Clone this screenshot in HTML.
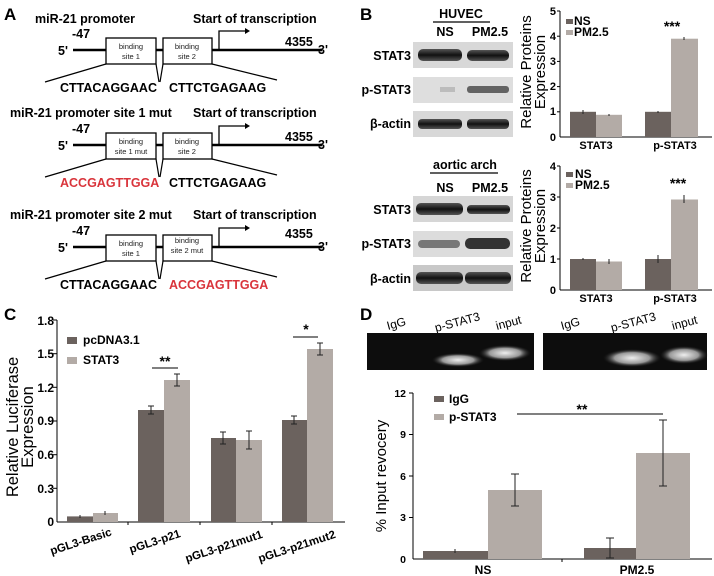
<!DOCTYPE html>
<html><head><meta charset="utf-8"><style>
body{margin:0;background:#fff}
svg{display:block;font-family:"Liberation Sans",sans-serif;font-weight:bold}
</style></head><body>
<svg width="714" height="576" viewBox="0 0 714 576" xmlns="http://www.w3.org/2000/svg">
<defs>
<g id="diag" stroke="#000" fill="none">
  <line x1="73" y1="50" x2="322" y2="50" stroke-width="2.5"/>
  <rect x="106" y="38" width="50" height="26" fill="#fff" stroke-width="1.3"/>
  <rect x="163" y="38" width="49" height="26" fill="#fff" stroke-width="1.3"/>
  <polyline points="219,50 219,31 245,31" stroke-width="1.3"/>
  <polygon points="245,28 250,31 245,34" fill="#000" stroke="none"/>
  <line x1="106" y1="64" x2="45" y2="82" stroke-width="1.2"/>
  <line x1="156" y1="64" x2="159" y2="82" stroke-width="1.2"/>
  <line x1="163" y1="64" x2="160" y2="82" stroke-width="1.2"/>
  <line x1="212" y1="64" x2="277" y2="80" stroke-width="1.2"/>
</g>
<linearGradient id="band" x1="0" y1="0" x2="0" y2="1"><stop offset="0" stop-color="#555"/><stop offset=".5" stop-color="#111"/><stop offset="1" stop-color="#555"/></linearGradient>
<radialGradient id="glow"><stop offset="0" stop-color="#eee"/><stop offset=".6" stop-color="#999"/><stop offset="1" stop-color="#222" stop-opacity="0"/></radialGradient>
</defs>

<!-- Panel A -->
<text x="4" y="20" font-size="17">A</text>
<g font-size="12.5">
<text x="35" y="23">miR-21 promoter</text>
<text x="193" y="23">Start of transcription</text>
<text x="10" y="117">miR-21 promoter site 1 mut</text>
<text x="193" y="117">Start of transcription</text>
<text x="10" y="219">miR-21 promoter site 2 mut</text>
<text x="193" y="219">Start of transcription</text>
</g>
<use href="#diag"/>
<use href="#diag" y="95"/>
<use href="#diag" y="197"/>
<g font-size="12.5">
<text x="72" y="38">-47</text><text x="58" y="55">5'</text><text x="285" y="46">4355</text><text x="318" y="54">3'</text>
<text x="72" y="133">-47</text><text x="58" y="150">5'</text><text x="285" y="141">4355</text><text x="318" y="149">3'</text>
<text x="72" y="235">-47</text><text x="58" y="252">5'</text><text x="285" y="238">4355</text><text x="318" y="251">3'</text>
</g>
<g font-size="7.5" font-weight="normal" text-anchor="middle" fill="#222">
<text x="131" y="49">binding</text><text x="131" y="59">site 1</text>
<text x="187" y="49">binding</text><text x="187" y="59">site 2</text>
<text x="131" y="144">binding</text><text x="131" y="154">site 1 mut</text>
<text x="187" y="144">binding</text><text x="187" y="154">site 2</text>
<text x="131" y="246">binding</text><text x="131" y="256">site 1</text>
<text x="187" y="243">binding</text><text x="187" y="253">site 2 mut</text>
</g>
<g font-size="12.5">
<text x="60" y="92">CTTACAGGAAC</text><text x="169" y="92">CTTCTGAGAAG</text>
<text x="60" y="187" fill="#d9343b">ACCGAGTTGGA</text><text x="169" y="187">CTTCTGAGAAG</text>
<text x="60" y="289">CTTACAGGAAC</text><text x="169" y="289" fill="#d9343b">ACCGAGTTGGA</text>
</g>

<!-- Panel B blots -->
<text x="360" y="20" font-size="17">B</text>
<g font-size="12.5" text-anchor="middle">
<text x="461" y="18">HUVEC</text><line x1="433" y1="22" x2="490" y2="22" stroke="#000" stroke-width="1.3"/>
<text x="445" y="36">NS</text><text x="490" y="36">PM2.5</text>
<text x="465" y="169">aortic arch</text><line x1="430" y1="173" x2="498" y2="173" stroke="#000" stroke-width="1.3"/>
<text x="445" y="192">NS</text><text x="490" y="192">PM2.5</text>
</g>
<g font-size="12.5" text-anchor="end">
<text x="411" y="60">STAT3</text><text x="411" y="94">p-STAT3</text><text x="411" y="128">β-actin</text>
<text x="411" y="214">STAT3</text><text x="411" y="248">p-STAT3</text><text x="411" y="283">β-actin</text>
</g>
<g>
<rect x="413" y="42" width="100" height="26" fill="#d8d8d8"/>
<rect x="418" y="49" width="44" height="12" rx="5" fill="url(#band)"/><rect x="467" y="50" width="42" height="11" rx="5" fill="url(#band)"/>
<rect x="413" y="77" width="100" height="26" fill="#dedede"/>
<rect x="467" y="86" width="42" height="7" rx="3" fill="#444" opacity=".8"/><rect x="440" y="87" width="15" height="5" fill="#999" opacity=".5"/>
<rect x="413" y="111" width="100" height="26" fill="#d8d8d8"/>
<rect x="418" y="119" width="44" height="10" rx="4" fill="url(#band)"/><rect x="467" y="119" width="42" height="10" rx="4" fill="url(#band)"/>
<rect x="413" y="196" width="100" height="26" fill="#d6d6d6"/>
<rect x="416" y="203" width="47" height="12" rx="5" fill="url(#band)"/><rect x="467" y="205" width="43" height="9" rx="4" fill="url(#band)"/>
<rect x="413" y="231" width="100" height="26" fill="#dcdcdc"/>
<rect x="418" y="240" width="42" height="8" rx="4" fill="#777"/><rect x="465" y="238" width="45" height="11" rx="5" fill="#333"/>
<rect x="413" y="265" width="100" height="26" fill="#c8c8c8"/>
<rect x="416" y="272" width="47" height="12" rx="5" fill="url(#band)"/><rect x="465" y="272" width="46" height="12" rx="5" fill="url(#band)"/>
</g>

<!-- Panel B charts -->
<g stroke="#000" stroke-width="1" fill="none">
<line x1="560" y1="11" x2="560" y2="137"/><line x1="560" y1="137" x2="712" y2="137"/>
<line x1="557" y1="11" x2="560" y2="11"/><line x1="557" y1="36.2" x2="560" y2="36.2"/><line x1="557" y1="61.4" x2="560" y2="61.4"/><line x1="557" y1="86.6" x2="560" y2="86.6"/><line x1="557" y1="111.8" x2="560" y2="111.8"/>
<line x1="560" y1="166" x2="560" y2="290"/><line x1="560" y1="290" x2="712" y2="290"/>
<line x1="557" y1="166" x2="560" y2="166"/><line x1="557" y1="197" x2="560" y2="197"/><line x1="557" y1="228" x2="560" y2="228"/><line x1="557" y1="259" x2="560" y2="259"/>
</g>
<g font-size="11" text-anchor="end">
<text x="556" y="15">5</text><text x="556" y="40">4</text><text x="556" y="65">3</text><text x="556" y="90">2</text><text x="556" y="115">1</text><text x="556" y="141">0</text>
<text x="556" y="170">4</text><text x="556" y="201">3</text><text x="556" y="232">2</text><text x="556" y="263">1</text><text x="556" y="294">0</text>
</g>
<g fill="#6b625e">
<rect x="570" y="111.8" width="26" height="25.2"/><rect x="645" y="111.8" width="26" height="25.2"/>
<rect x="570" y="259" width="26" height="31"/><rect x="645" y="259" width="26" height="31"/>
</g>
<g fill="#b3aba6">
<rect x="596" y="114.8" width="26" height="22.2"/><rect x="671" y="38.7" width="27" height="98.3"/>
<rect x="596" y="261.5" width="26" height="28.5"/><rect x="671" y="199.5" width="27" height="90.5"/>
</g>
<g stroke="#222" stroke-width="1">
<line x1="583" y1="110" x2="583" y2="114"/><line x1="609" y1="114" x2="609" y2="116"/><line x1="658" y1="111" x2="658" y2="113"/><line x1="684" y1="37" x2="684" y2="40"/>
<line x1="583" y1="258" x2="583" y2="260"/><line x1="609" y1="259" x2="609" y2="264"/><line x1="658" y1="255" x2="658" y2="263"/><line x1="684" y1="195" x2="684" y2="203"/>
</g>
<g font-size="12">
<rect x="566" y="19" width="7" height="5" fill="#6b625e"/><text x="574" y="25">NS</text>
<rect x="566" y="30" width="7" height="5" fill="#b3aba6"/><text x="574" y="36">PM2.5</text>
<rect x="566" y="172" width="7" height="5" fill="#6b625e"/><text x="575" y="178">NS</text>
<rect x="566" y="183" width="7" height="5" fill="#b3aba6"/><text x="575" y="189">PM2.5</text>
<text x="672" y="31" text-anchor="middle" font-size="14">***</text>
<text x="678" y="188" text-anchor="middle" font-size="14">***</text>
<text x="596" y="149" text-anchor="middle" font-size="11">STAT3</text><text x="675" y="149" text-anchor="middle" font-size="11">p-STAT3</text>
<text x="596" y="302" text-anchor="middle" font-size="11">STAT3</text><text x="675" y="302" text-anchor="middle" font-size="11">p-STAT3</text>
</g>
<g font-size="15" font-weight="normal" text-anchor="middle">
<text transform="translate(531,72) rotate(-90)">Relative Proteins</text>
<text transform="translate(545,72) rotate(-90)">Expression</text>
<text transform="translate(531,226) rotate(-90)">Relative Proteins</text>
<text transform="translate(545,226) rotate(-90)">Expression</text>
</g>

<!-- Panel C -->
<text x="4" y="320" font-size="17">C</text>
<g stroke="#000" stroke-width="1">
<line x1="57" y1="320" x2="57" y2="522"/><line x1="57" y1="522" x2="345" y2="522"/>
<line x1="53" y1="320" x2="57" y2="320"/><line x1="53" y1="353.7" x2="57" y2="353.7"/><line x1="53" y1="387.3" x2="57" y2="387.3"/><line x1="53" y1="421" x2="57" y2="421"/><line x1="53" y1="454.7" x2="57" y2="454.7"/><line x1="53" y1="488.3" x2="57" y2="488.3"/>
<line x1="128" y1="522" x2="128" y2="525"/><line x1="200" y1="522" x2="200" y2="525"/><line x1="272" y1="522" x2="272" y2="525"/>
</g>
<g font-size="12" text-anchor="end">
<text x="54" y="325">1.8</text><text x="54" y="358">1.5</text><text x="54" y="392">1.2</text><text x="54" y="425">0.9</text><text x="54" y="459">0.6</text><text x="54" y="493">0.3</text><text x="54" y="526">0</text>
</g>
<g fill="#6b625e">
<rect x="67" y="516.4" width="26" height="5.6"/><rect x="138" y="410" width="26" height="112"/><rect x="211" y="438" width="25" height="84"/><rect x="282" y="420" width="25" height="102"/>
</g>
<g fill="#b3aba6">
<rect x="93" y="513" width="25" height="9"/><rect x="164" y="380" width="26" height="142"/><rect x="236" y="440" width="26" height="82"/><rect x="307" y="349" width="26" height="173"/>
</g>
<g stroke="#222" stroke-width="1">
<line x1="80" y1="515" x2="80" y2="518"/><line x1="105" y1="511" x2="105" y2="515"/>
<line x1="151" y1="406" x2="151" y2="414"/><line x1="148" y1="406" x2="154" y2="406"/><line x1="148" y1="414" x2="154" y2="414"/>
<line x1="177" y1="374" x2="177" y2="386"/><line x1="174" y1="374" x2="180" y2="374"/><line x1="174" y1="386" x2="180" y2="386"/>
<line x1="223" y1="432" x2="223" y2="444"/><line x1="220" y1="432" x2="226" y2="432"/><line x1="220" y1="444" x2="226" y2="444"/>
<line x1="249" y1="431" x2="249" y2="449"/><line x1="246" y1="431" x2="252" y2="431"/><line x1="246" y1="449" x2="252" y2="449"/>
<line x1="294" y1="416" x2="294" y2="424"/><line x1="291" y1="416" x2="297" y2="416"/><line x1="291" y1="424" x2="297" y2="424"/>
<line x1="320" y1="343" x2="320" y2="355"/><line x1="317" y1="343" x2="323" y2="343"/><line x1="317" y1="355" x2="323" y2="355"/>
<line x1="152" y1="368" x2="178" y2="368" stroke="#000"/><line x1="293" y1="337" x2="318" y2="337" stroke="#000"/>
</g>
<text x="165" y="366" font-size="14" text-anchor="middle">**</text>
<text x="306" y="334" font-size="14" text-anchor="middle">*</text>
<g font-size="12">
<rect x="67" y="337" width="10" height="7" fill="#6b625e"/><text x="83" y="344">pcDNA3.1</text>
<rect x="67" y="357" width="10" height="7" fill="#b3aba6"/><text x="83" y="364">STAT3</text>
</g>
<g font-size="11.5" text-anchor="middle">
<text transform="translate(82,545) rotate(-18)">pGL3-Basic</text>
<text transform="translate(156,545) rotate(-18)">pGL3-p21</text>
<text transform="translate(225,550) rotate(-18)">pGL3-p21mut1</text>
<text transform="translate(298,550) rotate(-18)">pGL3-p21mut2</text>
</g>
<g font-size="16.5" font-weight="normal" text-anchor="middle">
<text transform="translate(18,427) rotate(-90)">Relative Luciferase</text>
<text transform="translate(33,427) rotate(-90)">Expression</text>
</g>

<!-- Panel D -->
<text x="360" y="320" font-size="17">D</text>
<g font-size="12" font-weight="normal">
<text transform="translate(388,330) rotate(-15)">IgG</text>
<text transform="translate(436,332) rotate(-15)">p-STAT3</text>
<text transform="translate(497,330) rotate(-15)">input</text>
<text transform="translate(562,330) rotate(-15)">IgG</text>
<text transform="translate(612,332) rotate(-15)">p-STAT3</text>
<text transform="translate(673,330) rotate(-15)">input</text>
</g>
<rect x="367" y="333" width="167" height="37" fill="#0d0d0d"/>
<rect x="543" y="333" width="164" height="37" fill="#0d0d0d"/>
<ellipse cx="458" cy="360" rx="26" ry="7" fill="url(#glow)"/>
<ellipse cx="505" cy="353" rx="26" ry="8" fill="url(#glow)"/>
<ellipse cx="632" cy="358" rx="29" ry="9" fill="url(#glow)"/>
<ellipse cx="684" cy="355" rx="24" ry="9" fill="url(#glow)"/>
<g stroke="#000" stroke-width="1">
<line x1="413" y1="393" x2="413" y2="559"/><line x1="413" y1="559" x2="712" y2="559"/>
<line x1="409" y1="393" x2="413" y2="393"/><line x1="409" y1="434.5" x2="413" y2="434.5"/><line x1="409" y1="476" x2="413" y2="476"/><line x1="409" y1="517.5" x2="413" y2="517.5"/>
<line x1="562" y1="559" x2="562" y2="562"/>
</g>
<g font-size="10.5" text-anchor="end">
<text x="406" y="397">12</text><text x="406" y="438">9</text><text x="406" y="480">6</text><text x="406" y="521">3</text><text x="406" y="563">0</text>
</g>
<g fill="#6b625e"><rect x="423" y="551" width="65" height="8"/><rect x="584" y="548" width="52" height="11"/></g>
<g fill="#b3aba6"><rect x="488" y="490" width="54" height="69"/><rect x="636" y="453" width="54" height="106"/></g>
<g stroke="#222" stroke-width="1">
<line x1="455" y1="549" x2="455" y2="553"/>
<line x1="515" y1="474" x2="515" y2="506"/><line x1="511" y1="474" x2="519" y2="474"/><line x1="511" y1="506" x2="519" y2="506"/>
<line x1="610" y1="538" x2="610" y2="558"/><line x1="606" y1="538" x2="614" y2="538"/><line x1="606" y1="558" x2="614" y2="558"/>
<line x1="663" y1="420" x2="663" y2="486"/><line x1="659" y1="420" x2="667" y2="420"/><line x1="659" y1="486" x2="667" y2="486"/>
<line x1="517" y1="414" x2="663" y2="414" stroke="#000"/>
</g>
<text x="582" y="414" font-size="14" text-anchor="middle">**</text>
<g font-size="12">
<rect x="434" y="396" width="10" height="6" fill="#6b625e"/><text x="449" y="403">IgG</text>
<rect x="434" y="414" width="10" height="6" fill="#b3aba6"/><text x="449" y="421">p-STAT3</text>
<text x="483" y="574" text-anchor="middle">NS</text><text x="637" y="574" text-anchor="middle">PM2.5</text>
</g>
<text transform="translate(386,476) rotate(-90)" font-size="15" font-weight="normal" text-anchor="middle">% Input revocery</text>
</svg>
</body></html>
